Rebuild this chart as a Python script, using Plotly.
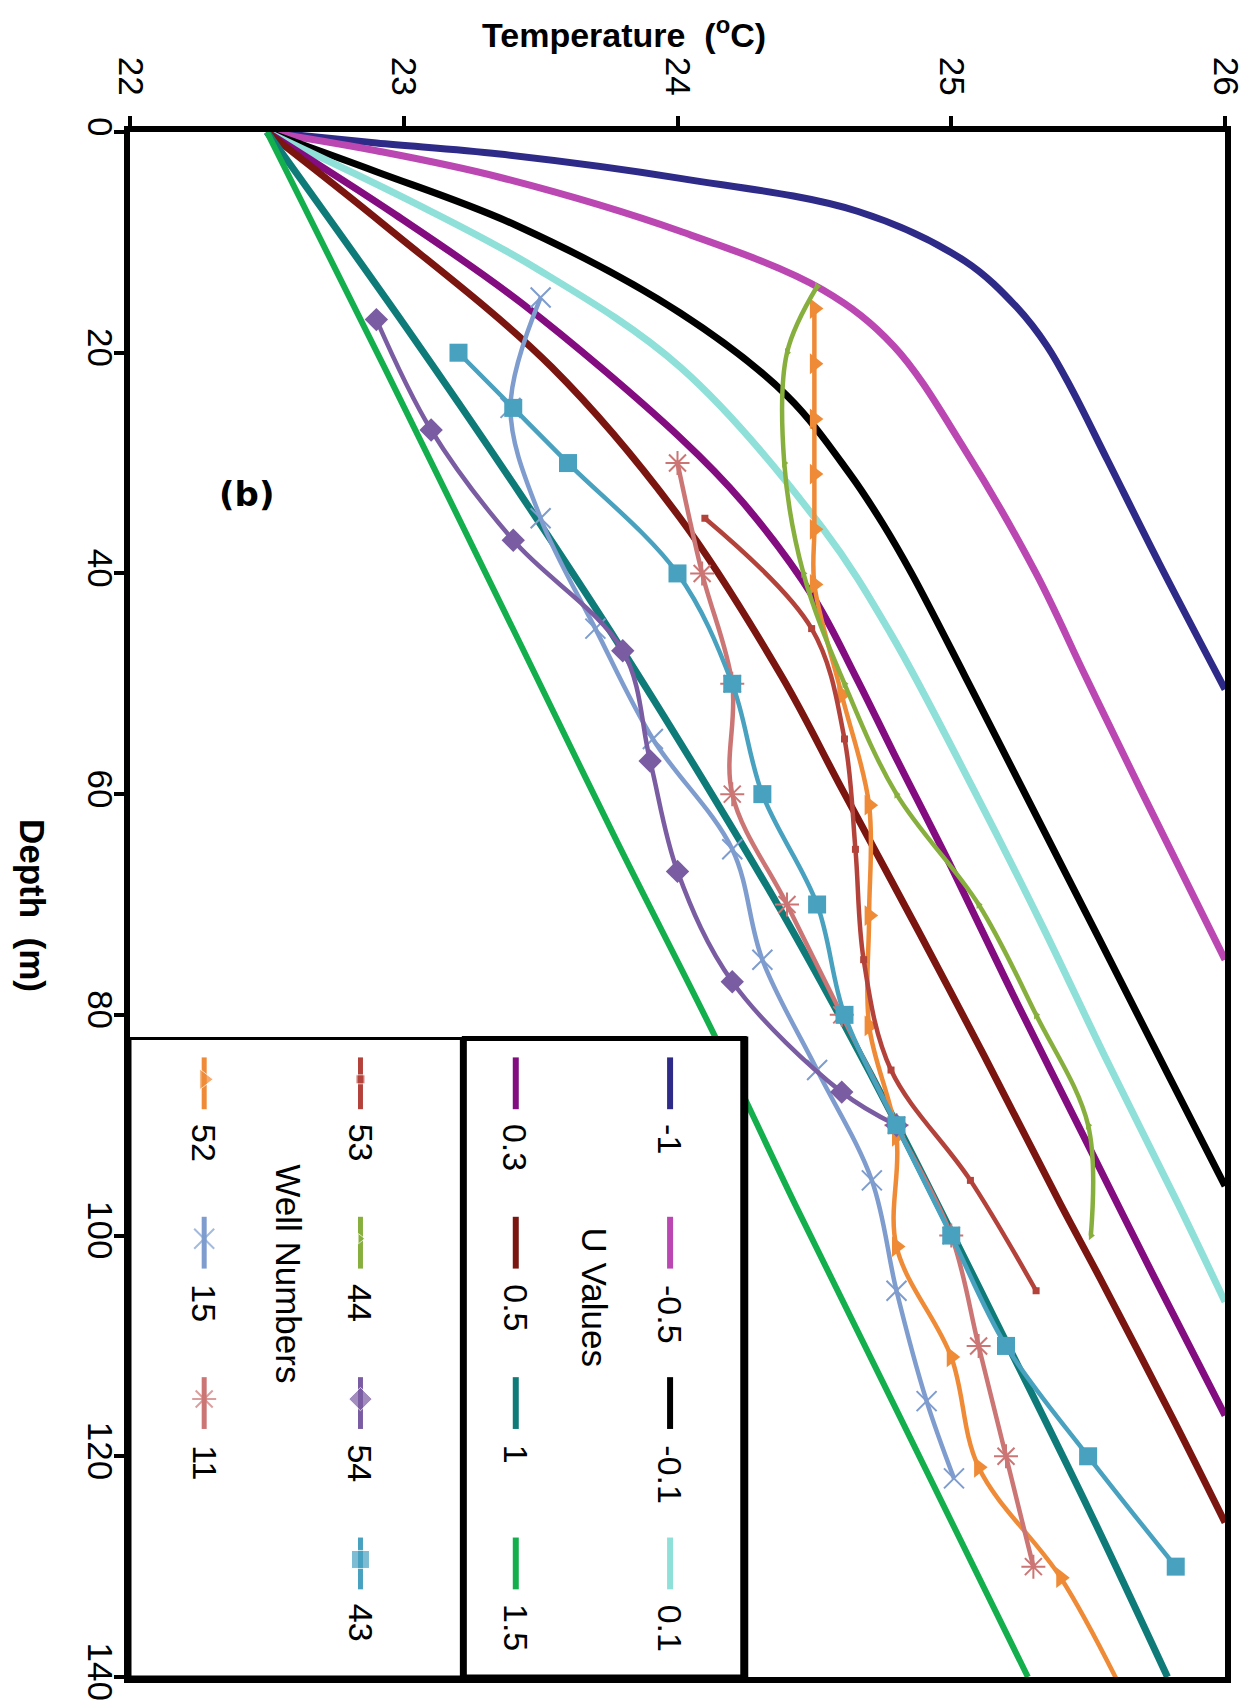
import plotly.graph_objects as go

# ---------------- data ----------------
u_labels = ["-1", "-0.5", "-0.1", "0.1", "0.3", "0.5", "1", "1.5"]

u_m1_depth = [0, 1.0, 2.0, 4.2, 7.2, 11.7, 15.9, 19.4, 23.3, 29.7, 39.1, 50.5]
u_m1_temp = [22.5, 22.9, 23.35, 24.01, 24.66, 25.05, 25.24, 25.35, 25.44, 25.57, 25.76, 26.0]

u_m05_depth = [0, 1.7, 4.1, 9.0, 14.3, 19.4, 28.8, 40.0, 49.3, 59.5, 75.0]
u_m05_temp = [22.5, 22.9, 23.35, 24.01, 24.53, 24.79, 25.05, 25.31, 25.49, 25.69, 26.0]

u_m01_depth = [0, 3.6, 8.45, 16.4, 23.9, 31.0, 35.5, 40.0, 49.3, 59.5, 73.1, 85.3, 95.5]
u_m01_temp = [22.5, 22.9, 23.41, 24.01, 24.40, 24.63, 24.75, 24.855, 25.05, 25.26, 25.54, 25.79, 26.0]

u_p01_depth = [0, 6.2, 12.3, 21.3, 35.9, 45.5, 59.5, 71.8, 83.7, 97.2, 106.0]
u_p01_temp = [22.5, 23.02, 23.48, 24.01, 24.53, 24.78, 25.08, 25.33, 25.56, 25.83, 26.0]

u_p03_depth = [0, 7.5, 15.5, 27.7, 33.6, 42.3, 49.3, 56.3, 66.6, 78.9, 91.8, 103.7, 116.3]
u_p03_temp = [22.5, 22.97, 23.43, 24.01, 24.24, 24.50, 24.65, 24.79, 25.0, 25.24, 25.50, 25.74, 26.0]

u_p05_depth = [0, 8.45, 21.3, 35.0, 49.3, 59.5, 72.4, 83.7, 97.2, 103.7, 116.6, 126.0]
u_p05_temp = [22.5, 22.93, 23.54, 24.01, 24.38, 24.60, 24.88, 25.12, 25.40, 25.54, 25.81, 26.0]

u_p1_depth = [0, 18.1, 32.6, 46.6, 60.2, 70.2, 80.0, 90.8, 108.6, 124.7, 140]
u_p1_temp = [22.5, 23.02, 23.42, 23.79, 24.13, 24.37, 24.59, 24.82, 25.18, 25.50, 25.79]

u_p15_depth = [0, 21.35, 46.6, 64.35, 82.1, 97.2, 115.3, 140]
u_p15_temp = [22.5, 22.93, 23.43, 23.78, 24.14, 24.43, 24.79, 25.28]

well_labels = ["52", "15", "11", "53", "44", "54", "43"]

w52_depth = [16, 21, 26, 31, 36, 41, 51, 61, 71, 81, 91, 101, 111, 121, 131, 141]
w52_temp = [24.5, 24.5, 24.5, 24.5, 24.5, 24.5, 24.6, 24.7, 24.7, 24.7, 24.8, 24.8, 25.0, 25.1, 25.4, 25.62]

w15_depth = [15, 25, 35, 45, 55, 65, 75, 85, 95, 105, 115, 122]
w15_temp = [23.5, 23.39, 23.5, 23.7, 23.91, 24.2, 24.31, 24.51, 24.71, 24.8, 24.91, 25.01]

w11_depth = [30, 40, 50, 60, 70, 80, 90, 100, 110, 120, 130]
w11_temp = [24.0, 24.09, 24.2, 24.2, 24.4, 24.6, 24.8, 25.0, 25.1, 25.2, 25.3]

w53_depth = [35, 45, 55, 65, 75, 85, 95, 105]
w53_temp = [24.1, 24.49, 24.61, 24.65, 24.68, 24.78, 25.07, 25.31]

w44_depth = [14, 20, 30, 40, 50, 60, 70, 80, 90, 100]
w44_temp = [24.51, 24.40, 24.39, 24.46, 24.61, 24.8, 25.1, 25.31, 25.5, 25.51]

w54_depth = [17, 27, 37, 47, 57, 67, 77, 87, 90]
w54_temp = [22.9, 23.1, 23.4, 23.8, 23.9, 24.0, 24.2, 24.6, 24.8]

w43_depth = [20, 25, 30, 40, 50, 60, 70, 80, 90, 100, 110, 120, 130]
w43_temp = [23.2, 23.4, 23.6, 24.0, 24.2, 24.31, 24.51, 24.61, 24.8, 25.0, 25.2, 25.5, 25.82]

x_ticks = [22, 23, 24, 25, 26]
y_ticks = [0, 20, 40, 60, 80, 100, 120, 140]

# ---------------- styles ----------------
u_series = [
    (u_m1_temp, u_m1_depth), (u_m05_temp, u_m05_depth), (u_m01_temp, u_m01_depth),
    (u_p01_temp, u_p01_depth), (u_p03_temp, u_p03_depth), (u_p05_temp, u_p05_depth),
    (u_p1_temp, u_p1_depth), (u_p15_temp, u_p15_depth),
]
u_colors = ["#2E2A88", "#BB48B2", "#000000", "#8EE0D8", "#820C80", "#7B1510", "#0E7B79", "#13AF4C"]
u_widths = [7, 7, 7, 7, 7, 7, 7, 6]

well_series = [
    (w52_temp, w52_depth), (w15_temp, w15_depth), (w11_temp, w11_depth),
    (w53_temp, w53_depth), (w44_temp, w44_depth), (w54_temp, w54_depth),
    (w43_temp, w43_depth),
]
well_colors = ["#EF8A36", "#7E9CCE", "#CC7575", "#B3423A", "#87AF3D", "#7A5CA2", "#47A1BF"]
well_markers = [
    dict(symbol="triangle-right", size=18),
    dict(symbol="x-thin-open", size=20, line=dict(width=2)),
    dict(symbol="asterisk-open", size=20, line=dict(width=2)),
    dict(symbol="square", size=7),
    dict(symbol="triangle-right", size=8),
    dict(symbol="diamond", size=18),
    dict(symbol="square", size=18),
]

FONT = "Liberation Sans, Arial, sans-serif"
W, H = 1250, 1705
L, R, T, B = 122, 1229, 124, 1675  # plot area in pixels


def fx(x):
    return (x - L) / (R - L)


def fy(y):
    return 1 - (y - T) / (B - T)


fig = go.Figure()

for (tx, dy), c, w, name in zip(u_series, u_colors, u_widths, u_labels):
    fig.add_trace(go.Scatter(x=tx, y=dy, mode="lines", name=name,
                             line=dict(color=c, width=w, shape="spline", smoothing=1.0),
                             showlegend=False))

for (tx, dy), c, m, name in zip(well_series, well_colors, well_markers, well_labels):
    mk = dict(m)
    mk["color"] = c
    if "line" in mk:
        mk["line"] = dict(width=mk["line"]["width"], color=c)
    fig.add_trace(go.Scatter(x=tx, y=dy, mode="lines+markers", name=name,
                             line=dict(color=c, width=4.5, shape="spline"),
                             marker=mk, showlegend=False))

# ---------------- hand-made legend (rotated like the reference) ----------------
box_l, box_r, box_t, box_b = 122, 744, 1034, 1675
fig.add_trace(go.Scatter(x=[fx(box_l), fx(box_r), fx(box_r), fx(box_l), fx(box_l)],
                         y=[fy(box_t), fy(box_t), fy(box_b), fy(box_b), fy(box_t)],
                         xaxis="x2", yaxis="y2", mode="lines", fill="toself",
                         fillcolor="white", line=dict(width=0, color="white"),
                         showlegend=False, hoverinfo="skip"))

row_centers = [1079, 1239, 1400, 1561]
label_tops = [1118, 1279, 1440, 1600]
half = 26

annotations = []


def legend_entry(cx, row, color, label, marker=None, width=6):
    cy = row_centers[row]
    if marker is None:
        fig.add_trace(go.Scatter(x=[fx(cx), fx(cx)], y=[fy(cy - half), fy(cy + half)],
                                 xaxis="x2", yaxis="y2", mode="lines",
                                 line=dict(color=color, width=width),
                                 showlegend=False, hoverinfo="skip"))
    else:
        mk = dict(marker)
        mk["color"] = color
        if "line" in mk:
            mk["line"] = dict(width=mk["line"]["width"], color=color)
        mk["size"] = [0, max(mk["size"], 9), 0]
        fig.add_trace(go.Scatter(x=[fx(cx), fx(cx), fx(cx)],
                                 y=[fy(cy - half), fy(cy - 4), fy(cy + half)],
                                 xaxis="x2", yaxis="y2", mode="lines+markers",
                                 line=dict(color=color, width=width), marker=mk,
                                 showlegend=False, hoverinfo="skip"))
    annotations.append(dict(x=fx(cx), y=fy(label_tops[row]), xref="paper", yref="paper",
                            text=label, textangle=90, showarrow=False,
                            xanchor="center", yanchor="top",
                            font=dict(family=FONT, size=34, color="black")))


colA, colB = 668, 512
for i in range(4):
    legend_entry(colA, i, u_colors[i], u_labels[i])
    legend_entry(colB, i, u_colors[i + 4], u_labels[i + 4])

colR, colLft = 355, 197
right_idx = [3, 4, 5, 6]
left_idx = [0, 1, 2]
for r, k in enumerate(right_idx):
    legend_entry(colR, r, well_colors[k], well_labels[k], well_markers[k], width=5)
for r, k in enumerate(left_idx):
    legend_entry(colLft, r, well_colors[k], well_labels[k], well_markers[k], width=5)

annotations.append(dict(x=fx(592), y=fy(1294), xref="paper", yref="paper",
                        text="U Values", textangle=90, showarrow=False,
                        xanchor="center", yanchor="middle",
                        font=dict(family=FONT, size=35, color="black")))
annotations.append(dict(x=fx(282), y=fy(1270), xref="paper", yref="paper",
                        text="Well Numbers", textangle=90, showarrow=False,
                        xanchor="center", yanchor="middle",
                        font=dict(family=FONT, size=35, color="black")))

annotations.append(dict(x=fx(621), y=fy(1), xref="paper", yref="paper",
                        text="Temperature  (<sup>o</sup>C)", showarrow=False,
                        xanchor="center", yanchor="top",
                        font=dict(family=FONT, size=34, color="black", weight="bold")))
annotations.append(dict(x=fx(23), y=fy(900), xref="paper", yref="paper",
                        text="Depth  (m)", textangle=90, showarrow=False,
                        xanchor="center", yanchor="middle",
                        font=dict(family=FONT, size=35, color="black", weight="bold")))
annotations.append(dict(x=fx(240), y=fy(487), xref="paper", yref="paper",
                        text="(b)", showarrow=False, xanchor="center", yanchor="middle",
                        font=dict(family="DejaVu Sans, sans-serif", size=34,
                                  color="black", weight="bold")))

shapes = [
    dict(type="rect", xref="paper", yref="paper", x0=fx(122), x1=fx(457),
         y0=fy(1034), y1=fy(1675), line=dict(color="black", width=3), layer="above"),
    dict(type="rect", xref="paper", yref="paper", x0=fx(460), x1=fx(743),
         y0=fy(1034), y1=fy(1675), line=dict(color="black", width=5), layer="above"),
    dict(type="line", xref="paper", yref="paper", x0=fx(743), x1=fx(743),
         y0=fy(1032), y1=fy(1675), line=dict(color="black", width=8), layer="above"),
]

axis_common = dict(showline=True, linewidth=6, linecolor="black", mirror=True,
                   showgrid=False, zeroline=False, ticks="outside", tickwidth=4,
                   tickcolor="black", tickangle=90,
                   tickfont=dict(family=FONT, size=35, color="black"))

fig.update_layout(
    width=W, height=H,
    margin=dict(l=L, r=W - R, t=T, b=H - B, pad=0),
    paper_bgcolor="white", plot_bgcolor="white",
    showlegend=False,
    xaxis=dict(range=[22, 26], side="top", tickvals=x_ticks, ticklen=10,
               ticklabelstandoff=8, **axis_common),
    yaxis=dict(range=[140, 0], tickvals=y_ticks, ticklen=10,
               ticklabelstandoff=-16, **axis_common),
    xaxis2=dict(overlaying="x", range=[0, 1], visible=False, fixedrange=True),
    yaxis2=dict(overlaying="y", range=[0, 1], visible=False, fixedrange=True),
    annotations=annotations,
    shapes=shapes,
)

fig.write_html("out.html")
